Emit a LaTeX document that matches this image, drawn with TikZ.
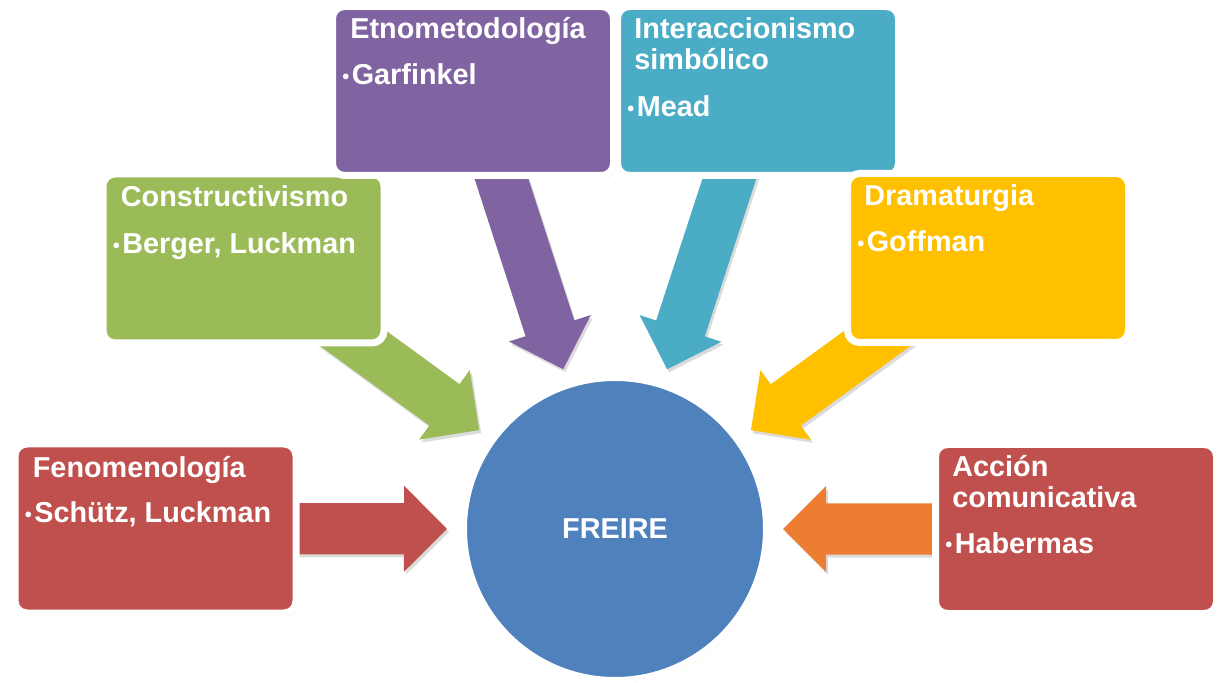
\documentclass[tikz,border=0pt]{standalone}
\usepackage{fontspec}
\setmainfont{Liberation Sans}
\usepackage{tikz}
\usetikzlibrary{calc,shadows,backgrounds}

\definecolor{fenred}{HTML}{C0504D}
\definecolor{congreen}{HTML}{9BBB59}
\definecolor{etnpurple}{HTML}{8064A2}
\definecolor{intaqua}{HTML}{4BACC6}
\definecolor{dragold}{HTML}{FFC000}
\definecolor{accorange}{HTML}{ED7D31}
\definecolor{freireblue}{HTML}{4F81BD}

\newcommand{\itembullet}{\raisebox{0.6pt}{\fontsize{10pt}{10pt}\selectfont•}\hspace{1.2pt}}

% block arrow from a topic box towards FREIRE
\newcommand{\blockarrow}[2]{%
  \coordinate (#1-tip) at ($(freire)!84pt!(#1)$);
  \coordinate (#1-base) at ($(#1-tip)!21.5pt!(#1)$);
  \fill[#2, arrowshadow] ($(#1)!12.8pt!90:(#1-tip)$) -- ($(#1-base)!12.8pt!90:(#1-tip)$)
    -- ($(#1-base)!21.5pt!90:(#1-tip)$) -- (#1-tip) -- ($(#1-base)!21.5pt!-90:(#1-tip)$)
    -- ($(#1-base)!12.8pt!-90:(#1-tip)$) -- ($(#1)!12.8pt!-90:(#1-tip)$) -- cycle;
}

\begin{document}
\begin{tikzpicture}[x=0.5pt, y=-0.5pt,
    topic/.style={draw=white, line width=3.5pt, rounded corners=6pt, outer sep=0pt, inner sep=0pt,
      minimum width=140.5pt, minimum height=84.5pt,
      drop shadow={shadow xshift=1pt, shadow yshift=-1.5pt, opacity=.3, fill=black!70}},
    title/.style={anchor=base west, inner sep=0pt, text=white, align=left,
      font=\fontsize{14.4pt}{15.5pt}\selectfont\bfseries},
    item/.style={title},
    arrowshadow/.style={drop shadow={shadow xshift=1pt, shadow yshift=-1.5pt, opacity=.2, fill=black!70}}]
    \useasboundingbox (0,0) rectangle (1219,683);

    % Centre
    \node[circle, draw=white, line width=3.5pt, fill=freireblue, minimum size=151.5pt, inner sep=0pt,
      drop shadow={shadow xshift=1pt, shadow yshift=-1.5pt, opacity=.15, fill=black!70},
      text=white, font=\fontsize{14.4pt}{15.5pt}\selectfont\bfseries] (freire) at (615,529) {FREIRE};

    % Left side
    \node[topic, fill=fenred] (fen) at (155.5,528.5) {};
    \node[title] (fen-title) at ([shift={(17.5,33.5)}]fen.north west) {Fenomenología};
    \node[item] (fen-item) at ([shift={(9.5,78.5)}]fen.north west) {\itembullet Schütz, Luckman};

    \node[topic, fill=congreen] (con) at (243.5,258.5) {};
    \node[title] (con-title) at ([shift={(17.5,32.5)}]con.north west) {Constructivismo};
    \node[item] (con-item) at ([shift={(9.5,79.5)}]con.north west) {\itembullet Berger, Luckman};

    % Top
    \node[topic, fill=etnpurple] (etn) at (473,91) {};
    \node[title] (etn-title) at ([shift={(17.5,32.5)}]etn.north west) {Etnometodología};
    \node[item] (etn-item) at ([shift={(9.5,78.5)}]etn.north west) {\itembullet Garfinkel};

    \node[topic, fill=intaqua] (int) at (758,91) {};
    \node[title] (int-title) at ([shift={(16.5,63.5)}]int.north west) {Interaccionismo\\simbólico};
    \node[item] (int-item) at ([shift={(9.5,110.5)}]int.north west) {\itembullet Mead};

    % Right side
    \node[topic, fill=dragold] (dra) at (988,258) {};
    \node[title] (dra-title) at ([shift={(16.5,32.5)}]dra.north west) {Dramaturgia};
    \node[item] (dra-item) at ([shift={(9.5,78.5)}]dra.north west) {\itembullet Goffman};

    \node[topic, fill=fenred] (acc) at (1076,529) {};
    \node[title] (acc-title) at ([shift={(16.5,62.5)}]acc.north west) {Acción\\comunicativa};
    \node[item] (acc-item) at ([shift={(9.5,108.5)}]acc.north west) {\itembullet Habermas};

    % Arrows into FREIRE
    \begin{scope}[on background layer]
        \blockarrow{fen}{fenred}
        \blockarrow{con}{congreen}
        \blockarrow{etn}{etnpurple}
        \blockarrow{int}{intaqua}
        \blockarrow{dra}{dragold}
        \blockarrow{acc}{accorange}
    \end{scope}
\end{tikzpicture}
\end{document}
